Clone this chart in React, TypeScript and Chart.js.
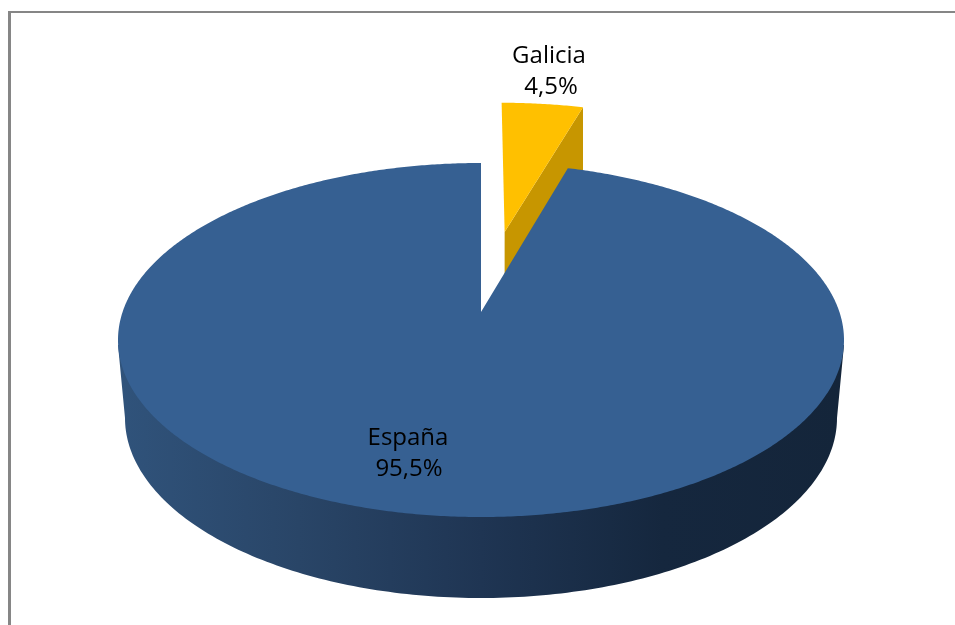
import React, { useEffect, useRef } from "react";
import { Chart, registerables } from "chart.js";

Chart.register(...registerables);

const categories = ["Galicia", "España"];
const shares = [4.5, 95.5];

const TOP = { cx: 481, cy: 340, rx: 363, ry: 177, k: -0.158 };
const BOTTOM = { cx: 481, cy: 418, rx: 356, ry: 180, k: -0.158 };
const EXPLODE = 0.505;
const TOP_COLORS = ["#ffc000", "#366092"];

type Plane = typeof TOP;

function project(p: Plane, u: number, v: number): [number, number] {
  const w = 1 + p.k * v;
  return [
    p.cx + (p.rx * u * Math.sqrt(1 - p.k * p.k)) / w,
    p.cy + (p.ry * (v + p.k)) / w,
  ];
}

function trace(ctx: CanvasRenderingContext2D, pts: [number, number][]) {
  ctx.beginPath();
  pts.forEach(([x, y], i) => (i ? ctx.lineTo(x, y) : ctx.moveTo(x, y)));
  ctx.closePath();
}

function sector(p: Plane, a0: number, a1: number, ox: number, oy: number) {
  const pts: [number, number][] = [project(p, ox, oy)];
  const n = Math.max(4, Math.ceil((a1 - a0) * 120));
  for (let i = 0; i <= n; i++) {
    const a = a0 + ((a1 - a0) * i) / n;
    pts.push(project(p, Math.cos(a) + ox, Math.sin(a) + oy));
  }
  return pts;
}

const pie3d = {
  id: "pie3d",
  beforeDatasetsDraw(chart: Chart) {
    const ctx = chart.ctx;
    const [gal, esp] = chart.getDatasetMeta(0).data as any[];

    // Galicia: exploded slice, visible radial cut face first, then its top.
    const mid = (gal.startAngle + gal.endAngle) / 2;
    const ox = Math.cos(mid) * EXPLODE;
    const oy = Math.sin(mid) * EXPLODE;
    const ex = Math.cos(gal.endAngle) + ox;
    const ey = Math.sin(gal.endAngle) + oy;
    trace(ctx, [
      project(TOP, ox, oy),
      project(TOP, ex, ey),
      [project(TOP, ex, ey)[0], project(BOTTOM, ex, ey)[1] + 60],
      [project(TOP, ox, oy)[0], project(BOTTOM, ox, oy)[1]],
    ]);
    ctx.fillStyle = "#c79600";
    ctx.fill();
    trace(ctx, sector(TOP, gal.startAngle, gal.endAngle, ox, oy));
    ctx.fillStyle = TOP_COLORS[0];
    ctx.fill();

    // España: outer wall with its horizontal shading.
    const g = ctx.createLinearGradient(118, 0, 844, 0);
    g.addColorStop(0, "#30537b");
    g.addColorStop(0.25, "#294567");
    g.addColorStop(0.5, "#1f3553");
    g.addColorStop(0.75, "#15273e");
    g.addColorStop(1, "#14253a");
    const wall: [number, number][] = [[118, 345]];
    for (let i = 0; i <= 180; i++) {
      const a = Math.PI - (Math.PI * i) / 180;
      wall.push([
        BOTTOM.cx + BOTTOM.rx * Math.cos(a),
        BOTTOM.cy + BOTTOM.ry * Math.sin(a),
      ]);
    }
    wall.push([844, 345]);
    trace(ctx, wall);
    ctx.fillStyle = g;
    ctx.fill();

    trace(ctx, sector(TOP, esp.startAngle, esp.endAngle, 0, 0));
    ctx.fillStyle = TOP_COLORS[1];
    ctx.fill();
    return false;
  },
  afterDraw(chart: Chart) {
    const ctx = chart.ctx;
    // Chart frame
    ctx.fillStyle = "#868686";
    ctx.fillRect(8, 11, 947, 2);
    ctx.fillRect(8, 11, 3, 614);
    // Data labels
    const at = [
      { x: 549, y: 56 },
      { x: 408, y: 438 },
    ];
    ctx.fillStyle = "#000000";
    ctx.textAlign = "center";
    ctx.textBaseline = "middle";
    ctx.font = '24px "Open Sans"';
    categories.forEach((c, i) => {
      ctx.fillText(c, at[i].x, at[i].y);
      ctx.fillText(
        shares[i].toFixed(1).replace(".", ",") + "%",
        at[i].x + (i ? 1 : 2),
        at[i].y + 31,
      );
    });
  },
};

export default function App() {
  const ref = useRef<HTMLCanvasElement>(null);
  useEffect(() => {
    const chart = new Chart(ref.current!, {
      type: "pie",
      data: {
        labels: categories,
        datasets: [{ data: shares, backgroundColor: TOP_COLORS, borderWidth: 0 }],
      },
      options: {
        animation: false,
        responsive: false,
        devicePixelRatio: 1,
        plugins: { legend: { display: false }, tooltip: { enabled: false } },
      },
      plugins: [pie3d],
    } as any);
    return () => chart.destroy();
  }, []);
  return (
    <div style={{ position: "absolute", left: 0, top: 0, width: 955, height: 625, background: "#fff" }}>
      <canvas ref={ref} width={955} height={625} style={{ display: "block" }} />
    </div>
  );
}
